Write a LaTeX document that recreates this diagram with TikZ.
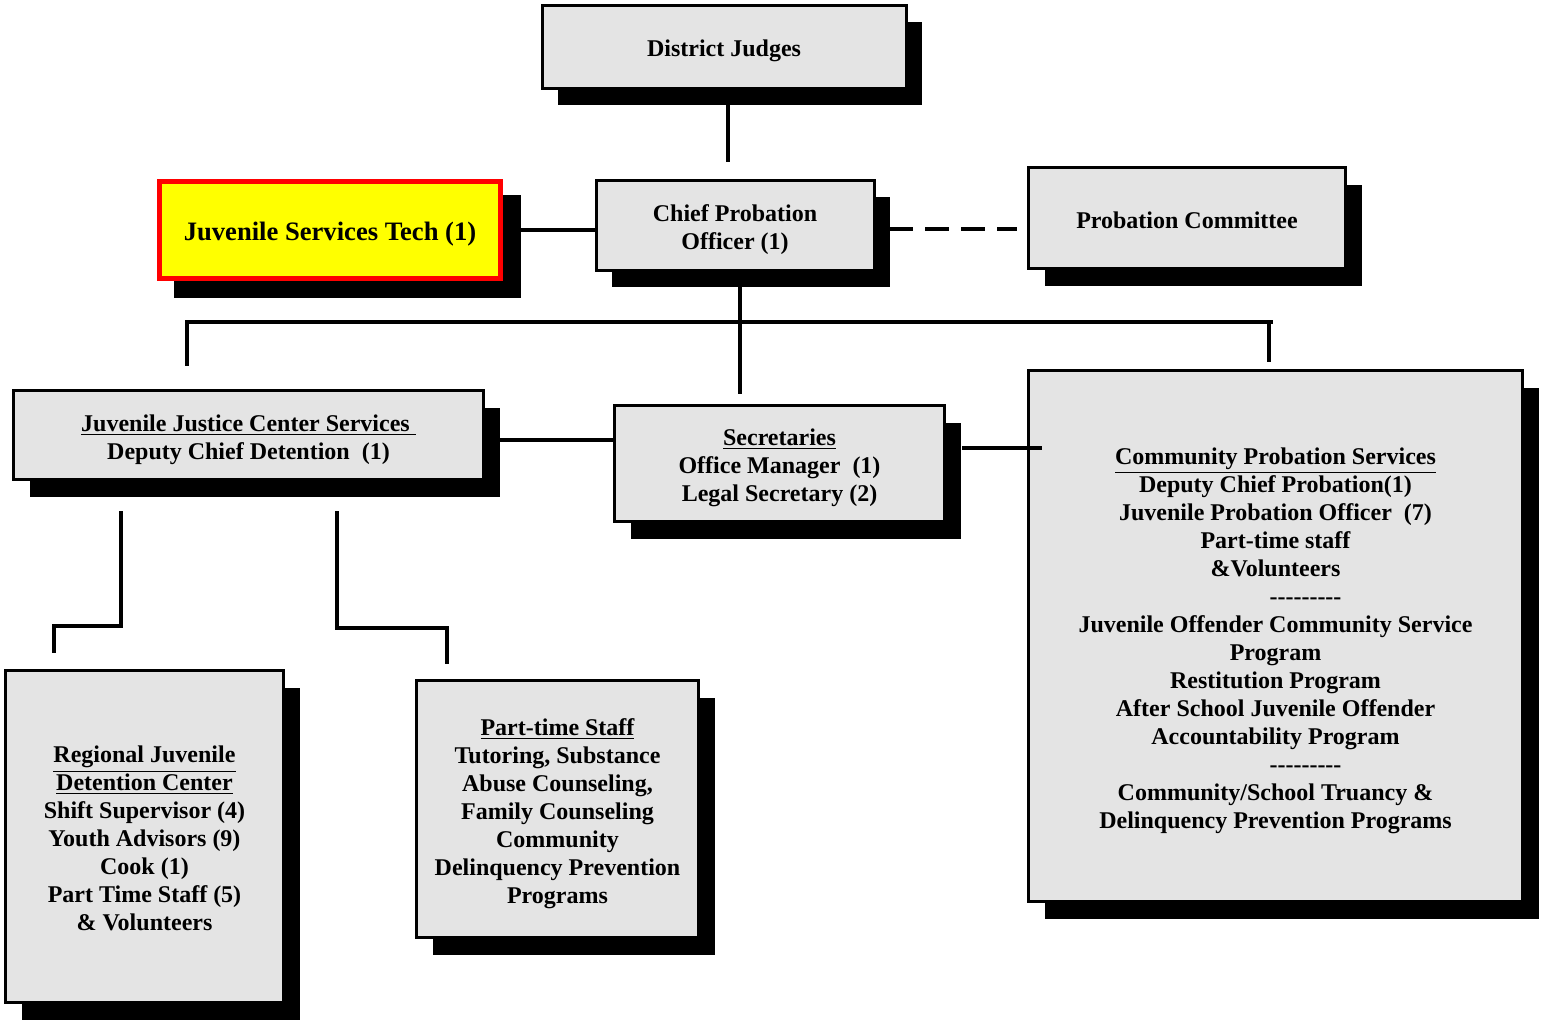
\documentclass[tikz,border=0pt]{standalone}
\usepackage{fontspec}
\setmainfont{Liberation Serif}
\usetikzlibrary{shadows}
\definecolor{boxgray}{HTML}{E4E4E4}
\definecolor{techyellow}{HTML}{FFFF00}
\definecolor{techred}{HTML}{FF0000}
\newcommand{\hy}{\mbox{-}}
\newcommand{\dashrow}{\hspace*{30pt}\hy\hy\hy\hy\hy\hy\hy\hy\hy}
\newcommand{\tst}{\rule{0pt}{13.3pt}}
\newcommand{\bst}{\rule[-3pt]{0pt}{3pt}}
\begin{document}
\begin{tikzpicture}[x=0.5pt,y=-0.5pt,
  box/.style={draw=black, line width=1.5pt, fill=boxgray, inner sep=0pt, align=center,
    font=\fontsize{12}{14}\selectfont\bfseries,
    general shadow={fill=black, shadow xshift=8pt, shadow yshift=-8.5pt}},
  techbox/.style={draw=techred, line width=2.5pt, fill=techyellow, inner sep=0pt, align=center,
    font=\fontsize{13.3}{15}\selectfont\bfseries,
    general shadow={fill=black, draw=black, line width=3pt, shadow xshift=8.5pt, shadow yshift=-8pt}},
  conn/.style={line width=2pt, black}]
\useasboundingbox (0,0) rectangle (1546,1025);

% boxes
\node[box, minimum width=182pt, minimum height=41.5pt] (dj) at (724,46.5) {\tst District Judges\bst};
\node[box, minimum width=139pt, minimum height=45pt] (chief) at (735,225) {\tst Chief Probation\\Officer (1)\bst};
\node[techbox, minimum width=170.5pt, minimum height=48.5pt] (jst) at (330,230) {\tst Juvenile Services Tech (1)\bst};
\node[box, minimum width=158.5pt, minimum height=50.5pt] (comm) at (1187,218) {\tst Probation Committee\bst};
\node[box, minimum width=235pt, minimum height=44.5pt] (jjc) at (248.5,435)
  {\tst\underline{Juvenile Justice Center Services\ }\\Deputy Chief Detention\ \ (1)\bst};
\node[box, minimum width=165pt, minimum height=58pt] (sec) at (779.5,463.5)
  {\tst\underline{Secretaries}\\Office Manager\ \ (1)\\Legal Secretary (2)\bst};
\node[box, minimum width=247pt, minimum height=265.5pt] (cps) at (1275.5,636)
  {\tst\underline{Community Probation Services}\\
   Deputy Chief Probation(1)\\
   Juvenile Probation Officer\ \ (7)\\
   Part-time staff\\
   \&Volunteers\\
   \dashrow\\
   Juvenile Offender Community Service\\
   Program\\
   Restitution Program\\
   After School Juvenile Offender\\
   Accountability Program\\
   \dashrow\\
   Community/School Truancy \&\\
   Delinquency Prevention Programs\bst};
\node[box, minimum width=139pt, minimum height=166pt] (rjd) at (144.5,836.5)
  {\tst\underline{Regional Juvenile}\\\underline{Detention Center}\\Shift Supervisor (4)\\Youth Advisors (9)\\Cook (1)\\Part Time Staff (5)\\\& Volunteers\bst};
\node[box, minimum width=141pt, minimum height=128.5pt] (pts) at (557.5,809)
  {\tst\underline{Part-time Staff}\\Tutoring, Substance\\Abuse Counseling,\\Family Counseling\\Community\\Delinquency Prevention\\Programs\bst};

% connector end points
\coordinate (djdown) at (728,104);
\coordinate (djend) at (728,162);
\coordinate (cpdown) at (740,394);
\coordinate (busL) at (185,322);
\coordinate (busR) at (1273,322);
\coordinate (dropL) at (187,366);
\coordinate (dropR) at (1269,362);
\coordinate (jjcR) at (500,440);
\coordinate (secR) at (962,448);
\coordinate (cpsL) at (1042,448);
\coordinate (dashS) at (889,229);
\coordinate (dashE) at (1017,229);
\coordinate (lbTop) at (121,511);
\coordinate (lbEnd) at (54,653);
\coordinate (rbTop) at (337,511);
\coordinate (rbEnd) at (447,664);

% connectors
\draw[conn] (djdown) -- (djend);
\draw[conn] (chief.west |- 0,230) -- (chief.west |- 0,230 -| jst.east);
\draw[conn, dash pattern=on 12pt off 6pt] (dashS) -- (dashE);
\draw[conn] (chief.south -| cpdown) -- (cpdown);
\draw[conn] (busL) -- (busR);
\draw[conn] (dropL |- busL) -- (dropL);
\draw[conn] (dropR |- busR) -- (dropR);
\draw[conn] (jjcR) -- (jjcR -| sec.west);
\draw[conn] (secR) -- (cpsL);
\draw[conn] (lbTop) -- (121,626) -- (54,626) -- (lbEnd);
\draw[conn] (rbTop) -- (337,628) -- (447,628) -- (rbEnd);
\end{tikzpicture}
\end{document}
